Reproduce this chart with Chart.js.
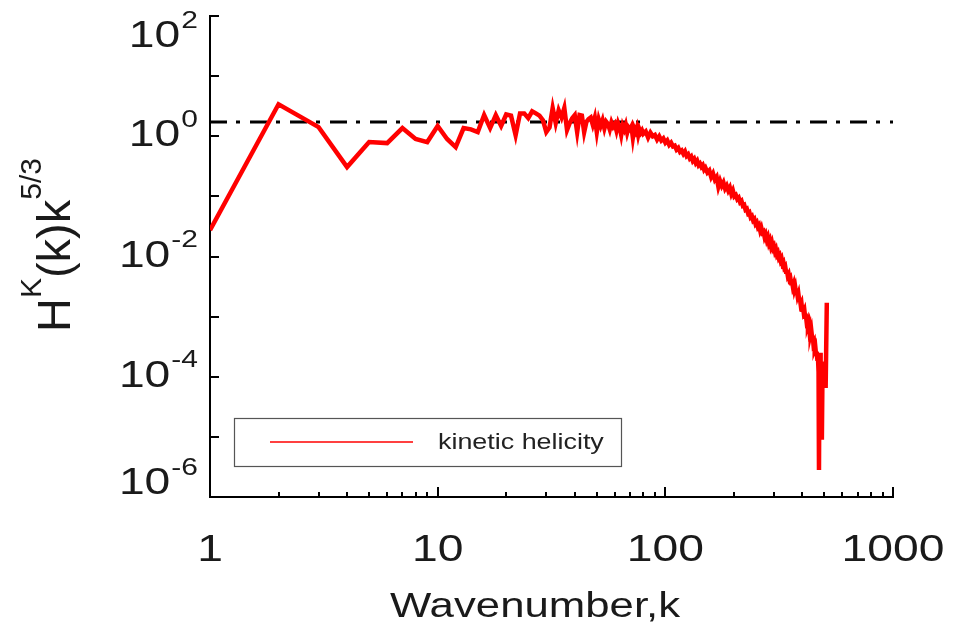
<!DOCTYPE html>
<html>
<head>
<meta charset="utf-8">
<title>Kinetic helicity spectrum</title>
<script src="https://cdn.jsdelivr.net/npm/chart.js@4.4.1/dist/chart.umd.min.js"></script>
<style>
  body { margin: 0; background: #fff; }
  #wrap { width: 953px; height: 632px; }
</style>
</head>
<body>
<div id="wrap"><canvas id="Chart" width="953" height="632"></canvas></div>
<script>
// wavenumbers k and compensated helicity H^K(k) k^(5/3)
const kValues = [
  1, 2, 3, 4, 5, 6, 7, 8, 9, 10,
  11, 12, 13, 14, 15, 16, 17, 18, 19, 20,
  21, 22, 23, 24, 25, 26, 27, 28, 29, 30,
  31, 32, 33, 34, 35, 36, 37, 38, 39, 40,
  41, 42, 43, 44, 45, 46, 47, 48, 49, 50,
  51, 52, 53, 54, 55, 56, 57, 58, 59, 60,
  61, 62, 63, 64, 65, 66, 67, 68, 69, 70,
  71, 72, 73, 74, 75, 76, 77, 78, 79, 80,
  82, 84, 86, 88, 90, 92, 94, 96, 98, 100,
  102, 104, 106, 108, 110, 112, 114, 116, 118, 120,
  122, 124, 126, 128, 130, 132, 134, 136, 138, 140,
  142, 144, 146, 148, 150, 153, 156, 159, 162, 165,
  168, 171, 174, 177, 180, 183, 186, 189, 192, 195,
  198, 201, 204, 207, 210, 213, 216, 219, 222, 225,
  228, 231, 234, 237, 240, 243, 246, 249, 252, 255,
  258, 261, 264, 267, 270, 273, 276, 279, 282, 285,
  288, 291, 294, 297, 300, 303, 306, 309, 312, 315,
  318, 321, 324, 327, 330, 333, 336, 339, 342, 345,
  348, 351, 354, 357, 360, 363, 366, 369, 372, 375,
  378, 381, 384, 387, 390, 393, 396, 399, 402, 405,
  408, 411, 414, 417, 420, 423, 426, 429, 432, 435,
  438, 441, 444, 447, 450, 453, 456, 459, 462, 465,
  468, 471, 473, 475, 478, 481, 484, 487, 490, 494,
  498, 502, 506, 512
];
const hkValues = [
  0.0275, 3.4, 1.42, 0.307, 0.80, 0.77, 1.37, 0.90, 0.80, 1.48,
  0.90, 0.66, 1.37, 1.30, 1.17, 2.25, 1.37, 2.25, 1.48, 2.3,
  2.2, 1.04, 2.4, 2.4, 2.0, 2.6, 2.4, 2.2, 1.85, 1.17,
  1.4, 2.94, 1.65, 2.7, 2.05, 2.94, 1.27, 1.65, 2.0, 2.25,
  1.17, 2.25, 2.2, 1.17, 1.73, 1.93, 2.05, 1.55, 2.05, 1.17,
  1.9, 1.5, 1.85, 1.35, 1.75, 1.6, 1.3, 1.7, 1.45, 1.6,
  1.25, 1.65, 1.4, 1.05, 1.5, 1.3, 1.55, 1.15, 1.4, 1.3,
  1.45, 0.95, 1.35, 1.2, 1.4, 1.05, 1.3, 1.15, 1.25, 1.1,
  1.2, 0.95, 1.15, 1.0, 1.05, 0.88, 1.0, 0.85, 0.92, 0.78,
  0.85, 0.72, 0.78, 0.68, 0.7, 0.6, 0.64, 0.55, 0.58, 0.51,
  0.56, 0.47, 0.5, 0.43, 0.46, 0.39, 0.42, 0.36, 0.39, 0.33,
  0.35, 0.31, 0.33, 0.28, 0.3, 0.25, 0.27, 0.21, 0.24, 0.19,
  0.21, 0.145, 0.18, 0.15, 0.17, 0.135, 0.15, 0.125, 0.14, 0.11,
  0.125, 0.1, 0.105, 0.09, 0.095, 0.08, 0.084, 0.07, 0.072, 0.06,
  0.062, 0.052, 0.054, 0.045, 0.047, 0.04, 0.042, 0.035, 0.037, 0.031,
  0.033, 0.027, 0.03, 0.025, 0.026, 0.021, 0.023, 0.019, 0.021, 0.0168,
  0.0185, 0.015, 0.0168, 0.0138, 0.0148, 0.0122, 0.0132, 0.0108, 0.0115, 0.0096,
  0.0102, 0.0086, 0.0092, 0.0076, 0.008, 0.0066, 0.0069, 0.0056, 0.0059, 0.0048,
  0.0051, 0.0042, 0.0044, 0.0036, 0.0039, 0.0032, 0.0035, 0.0028, 0.0031, 0.0025,
  0.0027, 0.0022, 0.0024, 0.0019, 0.002, 0.0016, 0.0017, 0.0013, 0.0015, 0.0012,
  0.00128, 0.001, 0.00108, 0.00085, 0.0009, 0.00072, 0.00078, 0.0006, 0.00066, 0.00052,
  0.00058, 0.00046, 0.00048, 0.00036, 0.00038, 0.00029, 0.00031, 0.00024, 0.00026, 0.0002,
  0.00022, 0.00012, 0.0000028, 0.00009, 0.00025, 0.00012, 0.00018, 0.000009, 0.00011, 0.00015,
  0.00008, 0.00012, 0.000065, 0.0017
];
const refLevel = 1.72;              // dash-dot reference line
const yTickExponents = [2, 0, -2, -4, -6];
const xTickLabels = ['1', '10', '100', '1000'];
const seriesLabel = 'kinetic helicity';

const FONT = '"Liberation Sans", Arial, sans-serif';
const STRETCH = 1.25; // the reference text is drawn wide

function wideText(ctx, text, x, y, size, align) {
    ctx.save();
    ctx.font = size + 'px ' + FONT;
    const w = ctx.measureText(text).width * STRETCH;
    let left = x;
    if (align === 'center') left = x - w / 2;
    if (align === 'right') left = x - w;
    ctx.translate(left, y);
    ctx.scale(STRETCH, 1);
    ctx.textAlign = 'left';
    ctx.fillText(text, 0, 0);
    ctx.restore();
    return w;
}

function textWidth(ctx, text, size) {
    ctx.save();
    ctx.font = size + 'px ' + FONT;
    const w = ctx.measureText(text).width * STRETCH;
    ctx.restore();
    return w;
}

// ticks pointing inward, labels with superscripts, legend box
const axisDecor = {
    id: 'axisDecor',
    afterDraw(chart) {
        const ctx = chart.ctx;
        const a = chart.chartArea;
        const xs = chart.scales.x;
        const ys = chart.scales.y;
        ctx.save();
        ctx.strokeStyle = '#000';
        ctx.lineWidth = 2;
        ctx.beginPath();
        for (let e = -6; e <= 2; e++) {
            const py = Math.round(ys.getPixelForValue(Math.pow(10, e)));
            ctx.moveTo(a.left, py);
            ctx.lineTo(a.left + 9, py);
        }
        for (let d = 0; d < 3; d++) {
            for (let m = 1; m <= 9; m++) {
                const px = Math.round(xs.getPixelForValue(m * Math.pow(10, d)));
                ctx.moveTo(px, a.bottom);
                ctx.lineTo(px, a.bottom - (m === 1 ? 10 : 5));
            }
        }
        const pEnd = Math.round(xs.getPixelForValue(1000));
        ctx.moveTo(pEnd, a.bottom);
        ctx.lineTo(pEnd, a.bottom - 10);
        ctx.stroke();

        ctx.fillStyle = '#1a1a1a';
        ctx.textBaseline = 'middle';
        // y tick labels 10^n
        yTickExponents.forEach(function(e) {
            let py = ys.getPixelForValue(Math.pow(10, e));
            py = Math.min(Math.max(py, 37), 484);
            const sup = String(e);
            const supW = textWidth(ctx, sup, 24);
            const right = 198;
            wideText(ctx, sup, right, py - 16, 24, 'right');
            wideText(ctx, '10', right - supW - 1, py, 37, 'right');
        });
        // x tick labels
        xTickLabels.forEach(function(t) {
            const px = xs.getPixelForValue(Number(t));
            wideText(ctx, t, px, 551, 37, 'center');
        });
        // x title
        wideText(ctx, 'Wavenumber,k', 535, 607, 35, 'center');

        // y title, rotated
        ctx.save();
        ctx.translate(70, 332);
        ctx.rotate(-Math.PI / 2);
        ctx.textBaseline = 'alphabetic';
        ctx.font = '47px ' + FONT;
        let cx = 0;
        ctx.fillText('H', cx, 0); cx += ctx.measureText('H').width;
        ctx.font = '30px ' + FONT;
        ctx.fillText('K', cx, -29); cx += ctx.measureText('K').width;
        ctx.font = '47px ' + FONT;
        ctx.fillText('(k)k', cx, 0); cx += ctx.measureText('(k)k').width;
        ctx.font = '30px ' + FONT;
        ctx.fillText('5/3', cx, -29);
        ctx.restore();

        // legend box
        ctx.strokeStyle = '#555';
        ctx.lineWidth = 1.2;
        ctx.strokeRect(234.5, 418.5, 387, 48);
        ctx.strokeStyle = chart.data.datasets[0].borderColor;
        ctx.lineWidth = 1.3;
        ctx.beginPath();
        ctx.moveTo(270, 442);
        ctx.lineTo(413, 442);
        ctx.stroke();
        ctx.fillStyle = '#222';
        wideText(ctx, chart.data.datasets[0].label, 438, 443, 21.5, 'left');
        ctx.restore();
    }
};

document.addEventListener('DOMContentLoaded', function() {
    const points = kValues.map(function(k, i) { return { x: k, y: hkValues[i] }; });
    const refLine = [{ x: 1, y: refLevel }, { x: 1000, y: refLevel }];

    const ctx = document.getElementById('Chart').getContext('2d');
    new Chart(ctx, {
        type: 'line',
        data: {
            datasets: [{
                label: seriesLabel,
                data: points,
                borderColor: '#ff0000',
                borderWidth: 4.5,
                pointRadius: 0,
                tension: 0,
                borderJoinStyle: 'miter'
            }, {
                label: 'reference',
                data: refLine,
                borderColor: '#000000',
                borderWidth: 3,
                borderDash: [17, 9, 4, 10],
                pointRadius: 0
            }]
        },
        options: {
            responsive: false,
            animation: false,
            layout: { padding: { left: 202, top: 16, right: 60, bottom: 127 } },
            plugins: {
                legend: { display: false },  // drawn by axisDecor instead
                tooltip: { enabled: false }
            },
            scales: {
                x: {
                    type: 'logarithmic',
                    min: 1,
                    max: 1000,
                    ticks: { display: false },
                    grid: { display: false },
                    border: { display: true, color: '#000', width: 2 }
                },
                y: {
                    type: 'logarithmic',
                    min: 1e-6,
                    max: 100,
                    ticks: { display: false },
                    grid: { display: false },
                    border: { display: true, color: '#000', width: 2 }
                }
            }
        },
        plugins: [axisDecor]
    });
});
</script>
</body>
</html>
